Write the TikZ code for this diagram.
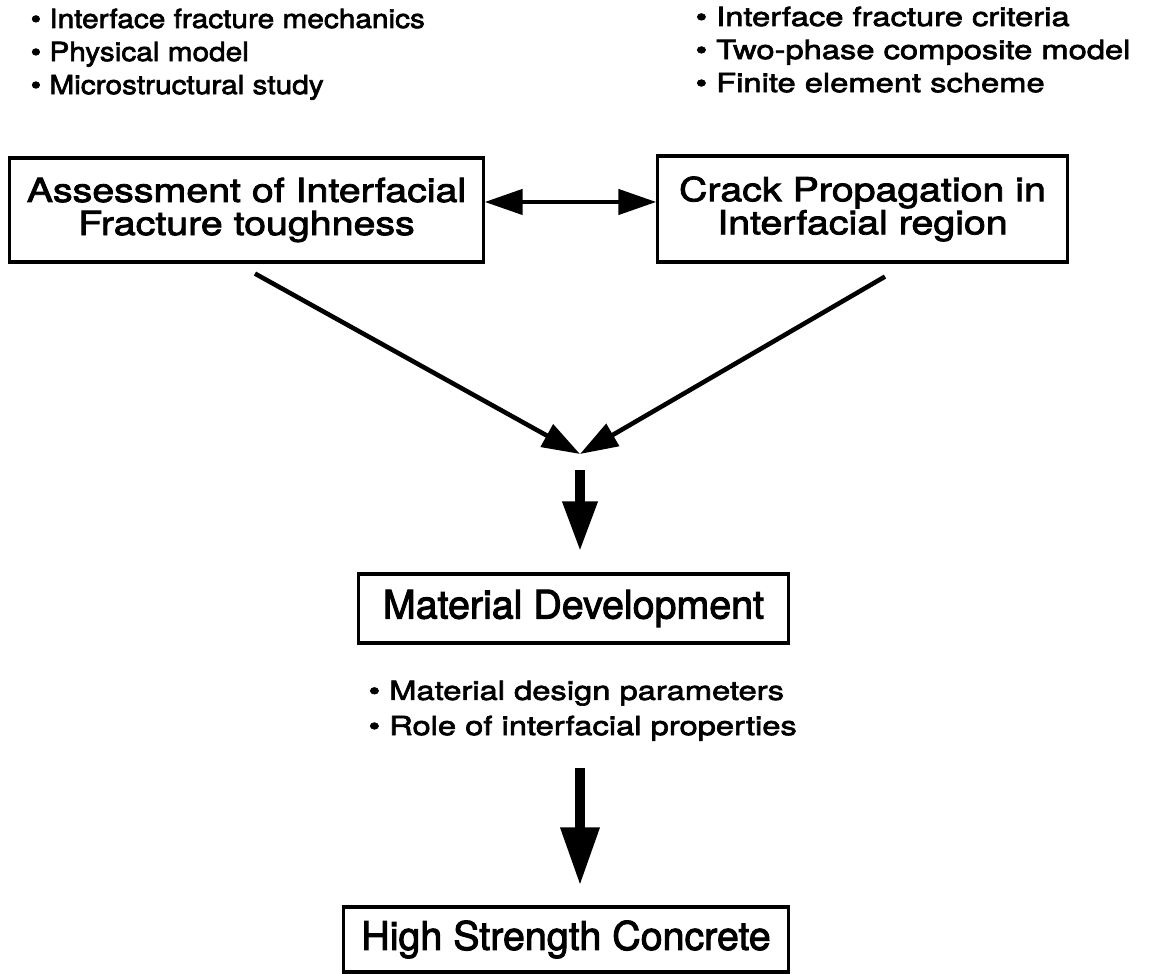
\documentclass[tikz,border=0pt]{standalone}
\usepackage{fontspec}
\setmainfont{TeX Gyre Heros}[FakeBold=2.5]
\newfontfamily\boxfont{TeX Gyre Heros}[FakeStretch=1.19, FakeBold=2.5]
\newfontfamily\itemfont{TeX Gyre Heros}[FakeStretch=1.24, FakeBold=2.5]
\newfontfamily\leftfont{TeX Gyre Heros}[FakeStretch=1.13, FakeBold=2.5]
\usetikzlibrary{arrows.meta}
\usetikzlibrary{calc}

\tikzset{
 topbox/.style={draw, line width=.9pt, align=center, inner sep=0, font=\boxfont\fontsize{9.4}{9.4}\selectfont},
 midbox/.style={draw, line width=.9pt, inner sep=0, font=\fontsize{11.2}{11.2}\selectfont},
 items/.style={anchor=north west, align=left, inner sep=0, font=\itemfont\fontsize{7.5}{9.4}\selectfont},
 thinarrow/.style={line width=1.3pt, >={Triangle[length=.38cm, width=.25cm]}},
 fatarrow/.style={line width=2.8pt, -{Triangle[length=.5cm, width=.33cm]}}
}

\begin{document}
\begin{tikzpicture}[x=.01cm, y=-.01cm]
\useasboundingbox (0,0) rectangle (1150,974);
\node[items, font=\leftfont\fontsize{7.5}{9.4}\selectfont] (studyL) at (30,8) {• Interface fracture mechanics\\• Physical model\\• Microstructural study};
\node[items] (studyR) at (695,6) {• Interface fracture criteria\\• Two-phase composite model\\• Finite element scheme};
\node[topbox, minimum width=4.73cm, minimum height=1.04cm] (assess) at (246.5,210) {Assessment of Interfacial\\Fracture toughness};
\node[topbox, minimum width=4.09cm, minimum height=1.06cm] (crack) at (862.5,209) {Crack Propagation in\\Interfacial region};
\coordinate (meet) at (580,454);
\node[midbox, minimum width=4.29cm, minimum height=.69cm] (matdev) at (573.5,608.5) {Material Development};
\node[items, font=\itemfont\fontsize{7.5}{10}\selectfont] (design) at (368,680) {• Material design parameters\\• Role of interfacial properties};
\node[midbox, minimum width=4.44cm, minimum height=.65cm] (hsc) at (566,939.5) {High Strength Concrete};

\draw[thinarrow, <->] ($(assess.east)+(0,-8)$) -- ($(crack.west)+(0,-7)$);
\foreach \src/\dx/\dy in {assess/8.5/10, crack/22.5/13} {
 \draw[thinarrow, ->] ($(\src.south)+(\dx,\dy)$) -- (meet);
}
\draw[fatarrow] ($(meet)+(0,16)$) -- ($(matdev.north -| meet)+(0,-21)$);
\draw[fatarrow, -{Triangle[length=.58cm, width=.37cm]}] ($(hsc.north -| meet)+(0,-137)$) -- ($(hsc.north -| meet)+(0,-20)$);
\end{tikzpicture}
\end{document}
